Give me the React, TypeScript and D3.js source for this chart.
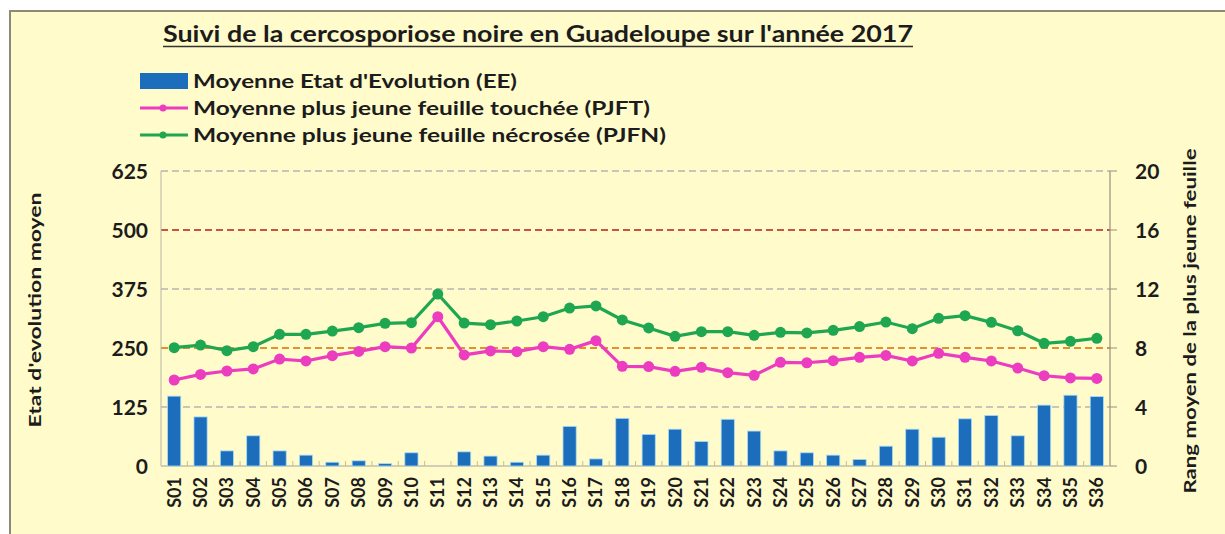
import React from "react";
import * as d3 from "d3";

const categories = Array.from({ length: 36 }, (_, i) => `S${String(i + 1).padStart(2, "0")}`);
const eeValues = [148, 104, 32, 64, 32, 23, 8, 11, 5, 28, 0, 30, 21, 8, 23, 84, 15, 101, 67, 78, 52, 99, 74, 32, 28, 23, 14, 42, 78, 61, 100, 107, 64, 129, 150, 147];
const pjftValues = [5.83, 6.21, 6.44, 6.58, 7.25, 7.12, 7.48, 7.77, 8.09, 8.0, 10.12, 7.53, 7.8, 7.75, 8.09, 7.91, 8.5, 6.76, 6.74, 6.42, 6.69, 6.33, 6.15, 7.03, 7.0, 7.14, 7.37, 7.5, 7.12, 7.64, 7.37, 7.12, 6.64, 6.12, 5.97, 5.94];
const pjfnValues = [8.02, 8.2, 7.82, 8.09, 8.93, 8.93, 9.15, 9.38, 9.67, 9.72, 11.66, 9.69, 9.58, 9.83, 10.12, 10.71, 10.85, 9.9, 9.36, 8.79, 9.11, 9.11, 8.86, 9.06, 9.02, 9.2, 9.45, 9.76, 9.31, 10.01, 10.19, 9.74, 9.17, 8.32, 8.45, 8.66];
const leftTicks = [0, 125, 250, 375, 500, 625];
const rightTicks = [0, 4, 8, 12, 16, 20];
const gridLines = [
  { v: 125, c: "#c9c6b8" },
  { v: 250, c: "#e3902f" },
  { v: 375, c: "#c9c6b8" },
  { v: 500, c: "#c9553f" },
  { v: 625, c: "#c9c6b8" },
];
const title = "Suivi de la cercosporiose noire en Guadeloupe sur l'année 2017";
const legendItems = [
  { label: "Moyenne Etat d'Evolution (EE)", kind: "bar", color: "#1d6dbd", len: 324 },
  { label: "Moyenne plus jeune feuille touchée (PJFT)", kind: "line", color: "#ec3cbf", len: 457 },
  { label: "Moyenne plus jeune feuille nécrosée (PJFN)", kind: "line", color: "#1fa650", len: 473 },
];
const leftTitle = "Etat d'evolution moyen";
const rightTitle = "Rang moyen de la plus jeune feuille";

const W = 1225;
const H = 534;
const plotL = 161;
const plotR = 1110;
const plotT = 171;
const plotB = 466;
const FONT = "Lato, 'Open Sans', sans-serif";
const TXT = "#1c1c1c";

export default function App() {
  const x = d3.scaleBand<string>().domain(categories).range([plotL, plotR]).paddingInner(0.5).paddingOuter(0.25);
  const yL = d3.scaleLinear().domain([0, 625]).range([plotB, plotT]);
  const yR = d3.scaleLinear().domain([0, 20]).range([plotB, plotT]);
  const cx = (c: string) => (x(c) as number) + x.bandwidth() / 2;
  const line = d3
    .line<number>()
    .x((_, i) => cx(categories[i]))
    .y((d) => yR(d));
  const step = x.step();

  return (
    <svg width={W} height={H} style={{ position: "absolute", left: 0, top: 0 }} fontFamily={FONT}>
      <rect x={0} y={0} width={W} height={H} fill="#ffffff" />
      <rect x={10} y={11} width={W + 20} height={H + 20} fill="#fffbcb" stroke="#8d8a74" strokeWidth={2} />

      {/* title */}
      <text x={163} y={42} fontSize={22} fontWeight={700} fill={TXT} textLength={750} lengthAdjust="spacingAndGlyphs">
        {title}
      </text>
      <line x1={163} x2={913} y1={46.5} y2={46.5} stroke="#333" strokeWidth={1.6} />

      {/* legend */}
      {legendItems.map((it, i) => {
        const cy = 81 + i * 27;
        return (
          <g key={it.label}>
            {it.kind === "bar" ? (
              <rect x={140} y={cy - 8} width={48} height={16} fill={it.color} />
            ) : (
              <g>
                <line x1={140} x2={188} y1={cy} y2={cy} stroke={it.color} strokeWidth={3} />
                <circle cx={163} cy={cy} r={3.5} fill={it.color} />
              </g>
            )}
            <text x={193} y={cy + 7} fontSize={19} fontWeight={700} fill={TXT} textLength={it.len} lengthAdjust="spacingAndGlyphs">
              {it.label}
            </text>
          </g>
        );
      })}

      {/* gridlines */}
      {gridLines.map((g) => (
        <line key={g.v} x1={plotL} x2={plotR} y1={yL(g.v)} y2={yL(g.v)} stroke={g.c} strokeWidth={2} strokeDasharray="7 4" />
      ))}

      {/* axes */}
      <line x1={plotL} x2={plotL} y1={plotT} y2={plotB} stroke="#b9b6a4" strokeWidth={1} />
      <line x1={plotR} x2={plotR} y1={plotT} y2={plotB} stroke="#9a8f80" strokeWidth={1.2} />
      <line x1={plotL} x2={plotR} y1={plotB} y2={plotB} stroke="#c2bfa8" strokeWidth={1.5} />
      {categories.map((c, i) => (
        <line key={"t" + c} x1={plotL + step * (i + 1)} x2={plotL + step * (i + 1)} y1={plotB} y2={plotB - 5} stroke="#c8bf90" strokeWidth={1} />
      ))}
      {rightTicks.map((t) => (
        <line key={"rt" + t} x1={plotR} x2={plotR + 7} y1={yR(t)} y2={yR(t)} stroke="#9a8f80" strokeWidth={1} />
      ))}

      {/* bars */}
      {categories.map((c, i) => (
        <rect
          key={"b" + c}
          x={x(c)}
          y={yL(eeValues[i])}
          width={x.bandwidth()}
          height={plotB - yL(eeValues[i])}
          fill="#1d6dbd"
          stroke="#a8dcf2"
          strokeWidth={eeValues[i] > 0 ? 0.8 : 0}
        />
      ))}

      {/* lines */}
      <path d={line(pjfnValues) || ""} fill="none" stroke="#1fa650" strokeWidth={3.2} />
      {pjfnValues.map((v, i) => (
        <circle key={"g" + i} cx={cx(categories[i])} cy={yR(v)} r={5.5} fill="#1fa650" />
      ))}
      <path d={line(pjftValues) || ""} fill="none" stroke="#ec3cbf" strokeWidth={3.2} />
      {pjftValues.map((v, i) => (
        <circle key={"p" + i} cx={cx(categories[i])} cy={yR(v)} r={5.5} fill="#ec3cbf" />
      ))}

      {/* left tick labels */}
      {leftTicks.map((t) => (
        <text key={"lt" + t} x={148} y={yL(t)} dy="0.36em" textAnchor="end" fontSize={21} fontWeight={700} fill={TXT}>
          {t}
        </text>
      ))}
      {/* right tick labels */}
      {rightTicks.map((t) => (
        <text key={"rl" + t} x={1135} y={yR(t)} dy="0.36em" textAnchor="start" fontSize={21} fontWeight={700} fill={TXT}>
          {t}
        </text>
      ))}

      {/* x labels */}
      {categories.map((c) => (
        <text
          key={"xl" + c}
          transform={`translate(${cx(c)},${477}) rotate(-90)`}
          dy="0.36em"
          textAnchor="end"
          fontSize={18}
          fontWeight={700}
          fill={TXT}
        >
          {c}
        </text>
      ))}

      {/* axis titles */}
      <text
        transform={`translate(35,310) rotate(-90)`}
        dy="0.36em"
        textAnchor="middle"
        fontSize={17}
        fontWeight={700}
        fill={TXT}
        textLength={235}
        lengthAdjust="spacingAndGlyphs"
      >
        {leftTitle}
      </text>
      <text
        transform={`translate(1190,321) rotate(-90)`}
        dy="0.36em"
        textAnchor="middle"
        fontSize={17}
        fontWeight={700}
        fill={TXT}
        textLength={345}
        lengthAdjust="spacingAndGlyphs"
      >
        {rightTitle}
      </text>
    </svg>
  );
}
